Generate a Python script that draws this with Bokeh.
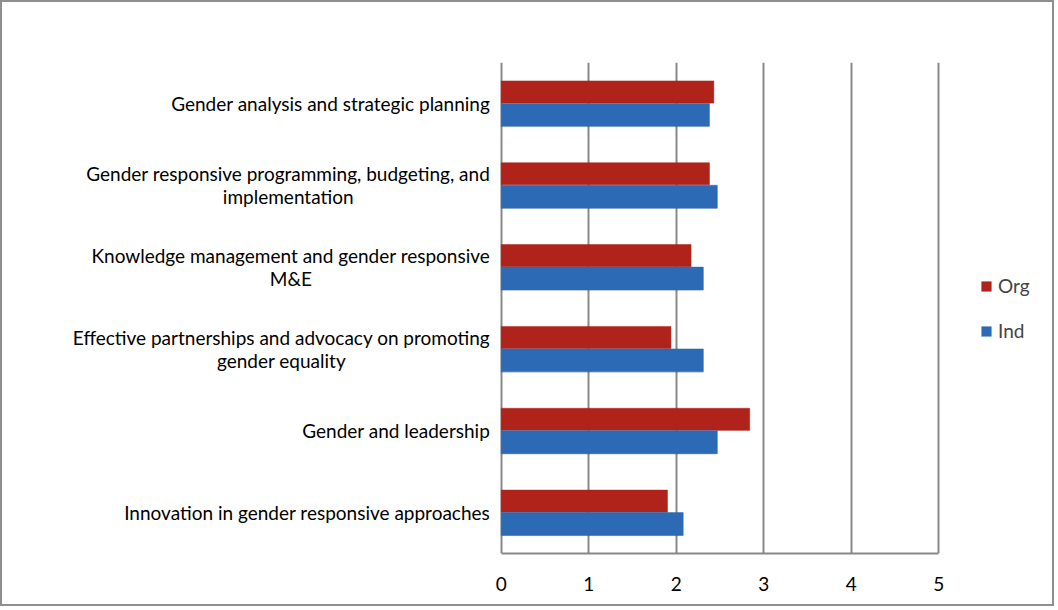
from bokeh.plotting import figure
from bokeh.models import (ColumnDataSource, FactorRange, Range1d, FixedTicker,
                          Legend, LegendItem)
from bokeh.transform import dodge
from bokeh.core.properties import value
from bokeh.embed import file_html
from bokeh.resources import INLINE

categories = [
    "Gender analysis and strategic planning",
    "Gender responsive programming, budgeting, and\nimplementation",
    "Knowledge management and gender responsive\nM&E",
    "Effective partnerships and advocacy on promoting\ngender equality",
    "Gender and leadership",
    "Innovation in gender responsive approaches",
]
org = [2.43, 2.38, 2.17, 1.94, 2.84, 1.90]
ind = [2.38, 2.47, 2.31, 2.31, 2.47, 2.08]
x_ticks = [0, 1, 2, 3, 4, 5]
series = ["Org", "Ind"]

RED = "#B0231A"
BLUE = "#2C6AB5"
GRID = "#898989"
FONT = "Lato"
FS = "19px"

src = ColumnDataSource(dict(cat=categories, org=org, ind=ind,
                            zero=[0] * len(categories)))

W, H = 1054, 606
unit_px = 87.5
zero_px = 498.7
p = figure(width=W, height=H,
           y_range=FactorRange(factors=list(reversed(categories))),
           x_range=Range1d(-zero_px / unit_px, (W - zero_px) / unit_px),
           output_backend="svg", toolbar_location=None,
           min_border_left=0, min_border_right=0,
           min_border_top=60, min_border_bottom=55)
p.styles = {"border": "2px solid #8f8f8f"}
p.outline_line_color = None
p.background_fill_color = None

# shadows
p.hbar(y=dodge("cat", 0.13, range=p.y_range), right="org", left=0, height=0.27,
       source=src, fill_color="black", fill_alpha=0.10, line_color=None)
p.hbar(y=dodge("cat", -0.155, range=p.y_range), right="ind", left=0, height=0.27,
       source=src, fill_color="black", fill_alpha=0.10, line_color=None)
r_org = p.hbar(y=dodge("cat", 0.14, range=p.y_range), right="org", left=0, height=0.27,
               source=src, fill_color=RED, line_color=RED, line_width=0.5)
r_ind = p.hbar(y=dodge("cat", -0.14, range=p.y_range), right="ind", left=0, height=0.28,
               source=src, fill_color=BLUE, line_color=BLUE, line_width=0.5)

# category labels: block anchored at right, lines centred
p.text(x="zero", y="cat", text="cat", source=src, x_offset=-11,
       anchor="center_right", text_align="center", text_baseline="middle",
       text_font=value(FONT), text_font_size=FS, text_color="black",
       text_line_height=1.02)

p.xgrid.ticker = FixedTicker(ticks=x_ticks)
p.xgrid.grid_line_color = GRID
p.xgrid.grid_line_width = 2
p.ygrid.grid_line_color = None
p.yaxis.visible = False

xa = p.xaxis[0]
xa.ticker = FixedTicker(ticks=x_ticks)
xa.bounds = (0, 5)
xa.axis_line_color = GRID
xa.axis_line_width = 2
xa.major_tick_line_color = None
xa.minor_tick_line_color = None
xa.major_label_standoff = 17
xa.major_label_text_font = FONT
xa.major_label_text_font_size = FS
xa.major_label_text_color = "black"

legend = Legend(items=[LegendItem(label=series[0], renderers=[r_org]),
                       LegendItem(label=series[1], renderers=[r_ind])],
                location=(978, 211), orientation="vertical",
                glyph_width=12, glyph_height=12, label_standoff=6,
                spacing=22, padding=0, margin=0,
                label_text_font=FONT, label_text_font_size=FS,
                border_line_color=None, background_fill_alpha=0)
p.add_layout(legend)

open("out.html", "w").write(file_html(p, INLINE))
